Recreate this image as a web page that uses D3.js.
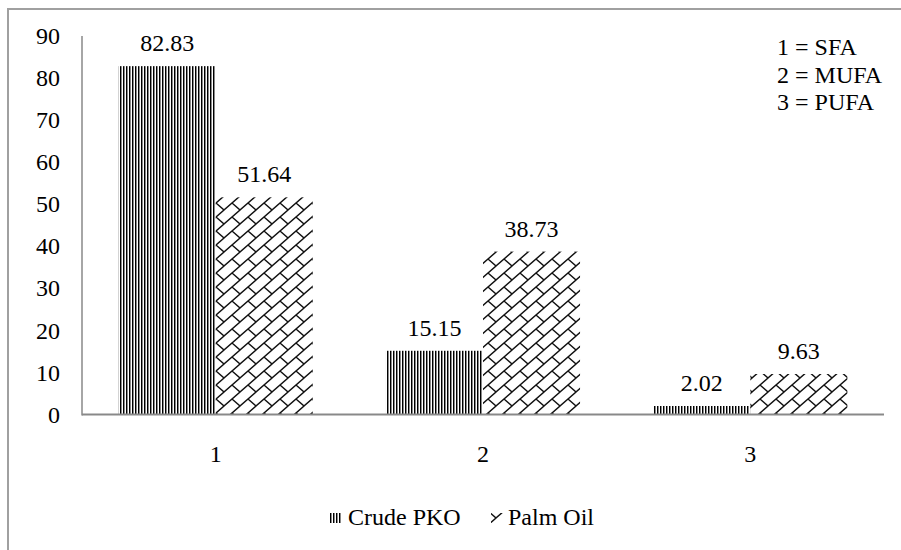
<!DOCTYPE html>
<html><head><meta charset="utf-8">
<script src="https://cdn.jsdelivr.net/npm/d3@7"></script>
<style>body{margin:0;background:#fff}</style>
</head><body>
<svg id="c" width="901" height="550"></svg>
<script>
const categories = ["1", "2", "3"];
const seriesNames = ["Crude PKO", "Palm Oil"];
const crudePKO = [82.83, 15.15, 2.02];
const palmOil = [51.64, 38.73, 9.63];
const yTicks = [0, 10, 20, 30, 40, 50, 60, 70, 80, 90];
const notes = ["1 = SFA", "2 = MUFA", "3 = PUFA"];

const FONT = "Times New Roman, Tinos, Liberation Serif, Noto Serif, DejaVu Serif, Times, serif";
const svg = d3.select("#c");
const defs = svg.append("defs");
// vertical stripe pattern
const p1 = defs.append("pattern").attr("id", "pv").attr("patternUnits", "userSpaceOnUse").attr("width", 3).attr("height", 3);
p1.append("rect").attr("width", 3).attr("height", 3).attr("fill", "#fff");
p1.append("rect").attr("x", 0).attr("width", 1).attr("height", 3).attr("fill", "#000");
p1.append("rect").attr("x", 1).attr("width", 1).attr("height", 3).attr("fill", "#8a8a8a");
// diagonal brick pattern
const p2 = defs.append("pattern").attr("id", "pb").attr("patternUnits", "userSpaceOnUse").attr("width", 16).attr("height", 14);
p2.append("rect").attr("width", 16).attr("height", 14).attr("fill", "#fff");
p2.append("path").attr("d", "M0,14L16,0M8,7L16,14M-2,1.75L2,-1.75M14,15.75L18,12.25").attr("stroke", "#111").attr("stroke-width", 1.4).attr("fill", "none");

// frame
svg.append("rect").attr("x", 8).attr("y", 9).attr("width", 900).attr("height", 560)
  .attr("fill", "none").attr("stroke", "#a0a0a0").attr("stroke-width", 2);

const x0 = d3.scaleBand().domain(categories).range([82, 884]).paddingInner(0.274).paddingOuter(0.137);
const x1 = d3.scaleBand().domain(seriesNames).range([0, x0.bandwidth()]).padding(0);
const y = d3.scaleLinear().domain([0, 90]).range([414.5, 36]);
const fills = {"Crude PKO": "url(#pv)", "Palm Oil": "url(#pb)"};
const vals = {"Crude PKO": crudePKO, "Palm Oil": palmOil};

function txt(sel) { return sel.style("font-family", FONT).style("font-size", "24px").attr("fill", "#000"); }

// y tick labels
txt(svg.append("g").selectAll("text").data(yTicks).join("text")
  .attr("x", 60).attr("y", d => y(d)).attr("dy", "0.34em").attr("text-anchor", "end")
  .text(d => d));

// bars
const g = svg.append("g");
seriesNames.forEach(s => {
  g.selectAll(null).data(categories).join("rect")
    .attr("x", c => x0(c) + x1(s)).attr("width", x1.bandwidth())
    .attr("y", (c, i) => y(vals[s][i])).attr("height", (c, i) => y(0) - y(vals[s][i]))
    .attr("fill", fills[s]);
  txt(g.selectAll(null).data(categories).join("text")
    .attr("x", c => x0(c) + x1(s) + x1.bandwidth() / 2)
    .attr("y", (c, i) => y(vals[s][i]) - 15)
    .attr("text-anchor", "middle")
    .text((c, i) => vals[s][i].toFixed(2)));
});

// axes lines
svg.append("line").attr("x1", 82).attr("x2", 82).attr("y1", 36).attr("y2", 415.5).attr("stroke", "#898989").attr("stroke-width", 1.5);
svg.append("line").attr("x1", 82).attr("x2", 884).attr("y1", 414.5).attr("y2", 414.5).attr("stroke", "#898989").attr("stroke-width", 2);

// category labels
txt(svg.append("g").selectAll("text").data(categories).join("text")
  .attr("x", c => x0(c) + x0.bandwidth() / 2).attr("y", 462)
  .attr("text-anchor", "middle").text(c => c));

// notes
txt(svg.append("g").selectAll("text").data(notes).join("text")
  .attr("x", 777).attr("y", (d, i) => 55 + i * 27.5).text(d => d));

// legend
const leg = [{name: seriesNames[0], sx: 330, tx: 348}, {name: seriesNames[1], sx: 491, tx: 508}];
leg.forEach(l => {
  svg.append("rect").attr("x", l.sx).attr("y", 513).attr("width", l.name === "Palm Oil" ? 13 : 11).attr("height", 10)
    .attr("fill", fills[l.name]);
  txt(svg.append("text").attr("x", l.tx).attr("y", 525).text(l.name));
});
</script>
</body></html>
